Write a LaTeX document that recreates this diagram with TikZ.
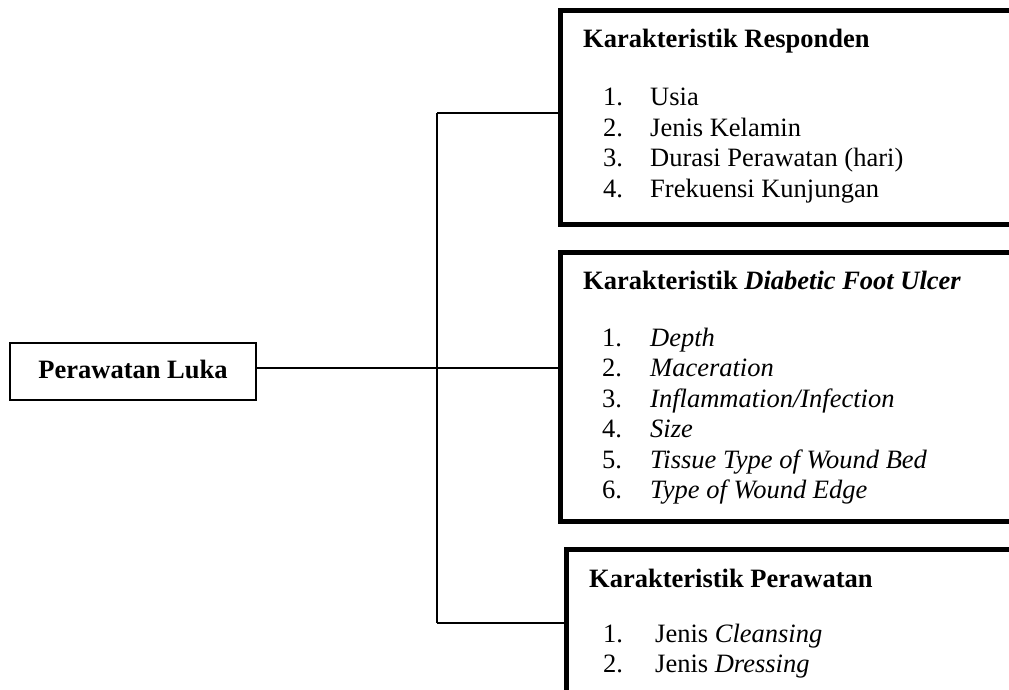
\documentclass[tikz,border=0pt]{standalone}
\usepackage{fontspec}
\setmainfont{Liberation Serif}
\begin{document}
\begin{tikzpicture}[x=1pt,y=-1pt,
  bigbox/.style={draw, line width=5pt, anchor=north west, inner sep=0pt, outer sep=0pt, line join=miter},
  rootbox/.style={draw, line width=1.5pt, anchor=north west, inner sep=0pt, outer sep=0pt},
  conn/.style={draw, line width=1.5pt},
  txt/.style={anchor=base west, inner sep=0pt, font=\fontsize{26.5}{30}\selectfont},
  ttl/.style={anchor=base west, inner sep=0pt, font=\fontsize{26.5}{30}\selectfont\bfseries}]
\useasboundingbox (0,0) rectangle (1009,690);
% boxes
\node[bigbox, minimum width=451pt, minimum height=213pt] (b1) at (560,11) {};
\node[bigbox, minimum width=451pt, minimum height=269pt] (b2) at (560,252) {};
\node[bigbox, minimum width=445pt, minimum height=180pt] (b3) at (566,549) {};
\node[rootbox, minimum width=246pt, minimum height=57pt] (root) at (10,343) {};
\node[anchor=base, inner sep=0pt, font=\fontsize{26.5}{30}\selectfont\bfseries] (rootlbl) at (133,378) {Perawatan Luka};
% box 1 text
\node[ttl] (t1) at (583,48) {Karakteristik Responden};
\node[txt] (n11) at (603,106) {1.};
\node[txt] (i11) at (650,106) {Usia};
\node[txt] (n12) at (603,136.5) {2.};
\node[txt] (i12) at (650,136.5) {Jenis Kelamin};
\node[txt] (n13) at (603,167) {3.};
\node[txt] (i13) at (650,167) {Durasi Perawatan (hari)};
\node[txt] (n14) at (603,197) {4.};
\node[txt] (i14) at (650,197) {Frekuensi Kunjungan};
% box 2 text
\node[ttl] (t2) at (583,289) {Karakteristik \textit{Diabetic Foot Ulcer}};
\node[txt] (n21) at (602,346) {1.};
\node[txt] (i21) at (650,346) {\textit{Depth}};
\node[txt] (n22) at (602,376.5) {2.};
\node[txt] (i22) at (650,376.5) {\textit{Maceration}};
\node[txt] (n23) at (602,407) {3.};
\node[txt] (i23) at (650,407) {\textit{Inflammation/Infection}};
\node[txt] (n24) at (602,437.5) {4.};
\node[txt] (i24) at (650,437.5) {\textit{Size}};
\node[txt] (n25) at (602,468) {5.};
\node[txt] (i25) at (650,468) {\textit{Tissue Type of Wound Bed}};
\node[txt] (n26) at (602,498) {6.};
\node[txt] (i26) at (650,498) {\textit{Type of Wound Edge}};
% box 3 text
\node[ttl] (t3) at (589,587) {Karakteristik Perawatan};
\node[txt] (n31) at (603,642) {1.};
\node[txt] (i31) at (655,642) {Jenis \textit{Cleansing}};
\node[txt] (n32) at (603,672) {2.};
\node[txt] (i32) at (655,672) {Jenis \textit{Dressing}};
% connectors
\coordinate (jt) at (437,113);
\coordinate (jm) at (437,368);
\coordinate (jb) at (437,623);
\draw[conn] (jt) -- (jb);
\draw[conn] (jt) -- (jt -| b1.west);
\draw[conn] (root.east |- jm) -- (jm) -- (jm -| b2.west);
\draw[conn] (jb) -- (jb -| b3.west);
\end{tikzpicture}
\end{document}
